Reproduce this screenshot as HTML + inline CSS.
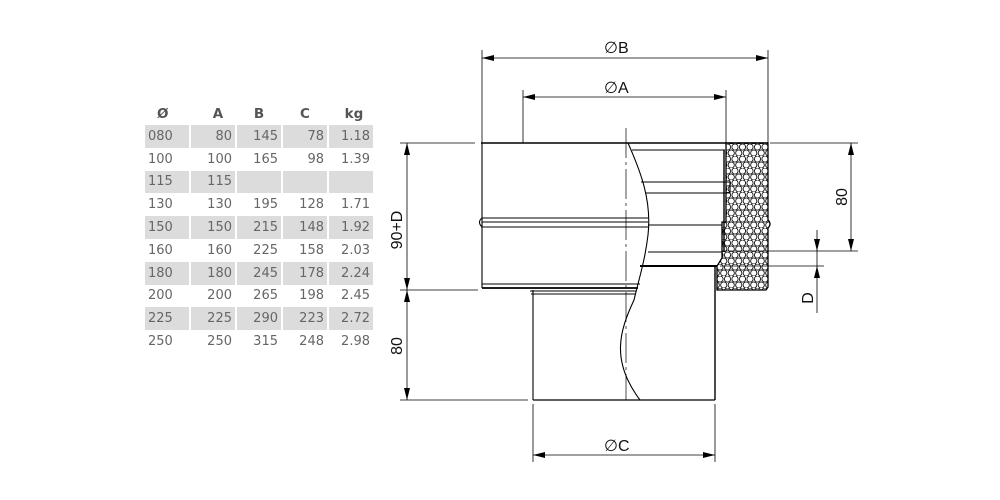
<!DOCTYPE html>
<html><head><meta charset="utf-8"><style>
html,body{margin:0;padding:0;background:#fff;}
body{width:1000px;height:500px;position:relative;overflow:hidden;font-family:"Liberation Sans","DejaVu Sans",sans-serif;}
table{position:absolute;left:143px;top:103px;border-collapse:separate;border-spacing:2px 0;font-family:"DejaVu Sans","Liberation Sans",sans-serif;font-size:13px;color:#666;}
td,th{width:44px;height:22.8px;padding:0 3px 0 0;text-align:right;box-sizing:border-box;}
th{color:#555;font-weight:bold;font-size:13.5px;text-align:center;height:22px;padding:0;}
td:first-child{text-align:left;padding-left:3px;}
tr.g td{background:#dcdcdc;}
</style></head><body>
<table>
<tr><th style="text-align:left;padding-left:12px">Ø</th><th style="padding-left:10px">A</th><th>B</th><th>C</th><th style="padding-left:6px">kg</th></tr>
<tr class="g"><td>080</td><td>80</td><td>145</td><td>78</td><td>1.18</td></tr>
<tr><td>100</td><td>100</td><td>165</td><td>98</td><td>1.39</td></tr>
<tr class="g"><td>115</td><td>115</td><td></td><td></td><td></td></tr>
<tr><td>130</td><td>130</td><td>195</td><td>128</td><td>1.71</td></tr>
<tr class="g"><td>150</td><td>150</td><td>215</td><td>148</td><td>1.92</td></tr>
<tr><td>160</td><td>160</td><td>225</td><td>158</td><td>2.03</td></tr>
<tr class="g"><td>180</td><td>180</td><td>245</td><td>178</td><td>2.24</td></tr>
<tr><td>200</td><td>200</td><td>265</td><td>198</td><td>2.45</td></tr>
<tr class="g"><td>225</td><td>225</td><td>290</td><td>223</td><td>2.72</td></tr>
<tr><td>250</td><td>250</td><td>315</td><td>248</td><td>2.98</td></tr>
</table>
<svg width="1000" height="500" style="position:absolute;left:0;top:0" xmlns="http://www.w3.org/2000/svg">
<defs>
<pattern id="hex2" width="7.5" height="12" patternUnits="userSpaceOnUse">
<circle cx="0" cy="3" r="3.1" fill="none" stroke="#111" stroke-width="0.9"/>
<circle cx="7.5" cy="3" r="3.1" fill="none" stroke="#111" stroke-width="0.9"/>
<circle cx="3.75" cy="9" r="3.1" fill="none" stroke="#111" stroke-width="0.9"/>
</pattern>
</defs>
<g stroke="#000" fill="none" stroke-width="0.8">
<line x1="482" y1="50" x2="482" y2="143"/>
<line x1="768" y1="50" x2="768" y2="143"/>
<line x1="523" y1="90" x2="523" y2="143"/>
<line x1="726" y1="90" x2="726" y2="143"/>
<line x1="533" y1="404" x2="533" y2="462"/>
<line x1="715" y1="404" x2="715" y2="462"/>
<line x1="400" y1="143" x2="475" y2="143"/>
<line x1="400" y1="290" x2="478" y2="290"/>
<line x1="400" y1="400" x2="528" y2="400"/>
<line x1="770" y1="143" x2="858" y2="143"/>
<line x1="722" y1="251" x2="858" y2="251"/>
<line x1="720" y1="266" x2="824" y2="266"/>
<line x1="482" y1="58" x2="768" y2="58"/>
<line x1="523" y1="97" x2="726" y2="97"/>
<line x1="533" y1="455" x2="715" y2="455"/>
<line x1="407" y1="143" x2="407" y2="400"/>
<line x1="851" y1="143" x2="851" y2="251"/>
<line x1="817" y1="230" x2="817" y2="313"/>
</g>
<g fill="#000">
<path d="M482,58 l12,-3 v6z"/><path d="M768,58 l-12,-3 v6z"/>
<path d="M523,97 l12,-3 v6z"/><path d="M726,97 l-12,-3 v6z"/>
<path d="M533,455 l12,-3 v6z"/><path d="M715,455 l-12,-3 v6z"/>
<path d="M407,143 l-3,12 h6z"/><path d="M407,290 l-3,-12 h6z"/>
<path d="M407,290 l-3,12 h6z"/><path d="M407,400 l-3,-12 h6z"/>
<path d="M851,143 l-3,12 h6z"/><path d="M851,251 l-3,-12 h6z"/>
<path d="M817,251 l-3,-12 h6z"/><path d="M817,266 l-3,12 h6z"/>
</g>
<g font-family="Liberation Sans, sans-serif" font-size="16" fill="#111">
<text x="604" y="53">∅B</text>
<text x="604" y="93">∅A</text>
<text x="604" y="451">∅C</text>
<text transform="translate(402,230) rotate(-90)" text-anchor="middle">90+D</text>
<text transform="translate(402,346) rotate(-90)" text-anchor="middle">80</text>
<text transform="translate(847,197) rotate(-90)" text-anchor="middle">80</text>
<text transform="translate(813,298) rotate(-90)" text-anchor="middle">D</text>
</g>
<path d="M726,143 H768 V220 q4,4 0,8 V287 L766,290 H717 V266 L722,258 V222 H726z" fill="url(#hex2)" stroke="#000" stroke-width="1.3"/>
<g stroke="#000" fill="none" stroke-width="1.1">
<line x1="481" y1="143" x2="768" y2="143" stroke-width="1.4"/>
<line x1="482" y1="143" x2="482" y2="288"/>
<path d="M482,218 q-5,4 0,9"/>
<line x1="482" y1="218" x2="648" y2="218"/>
<line x1="482" y1="222" x2="648" y2="222"/>
<line x1="482" y1="227" x2="648" y2="227"/>
<line x1="482" y1="284" x2="640" y2="284"/>
<line x1="482" y1="288" x2="638" y2="288" stroke-width="1.7"/>
<line x1="530" y1="291" x2="636" y2="291"/>
<line x1="531" y1="294" x2="635" y2="294"/>
<line x1="533" y1="290" x2="533" y2="400"/>
<line x1="533" y1="400" x2="715" y2="400" stroke-width="1.3"/>
<line x1="715" y1="266" x2="715" y2="400" stroke-width="1.4"/>
<path d="M628,143 C640,170 652,200 648,235 C645,260 640,275 634,300 C620,330 610,360 640,400"/>
<line x1="626" y1="128" x2="626" y2="400" stroke-width="0.7" stroke-dasharray="30,4,3,4"/>
<line x1="632" y1="150" x2="725" y2="150"/>
<path d="M641,182 H730 V193 H645"/>
<line x1="648" y1="225" x2="722" y2="225"/>
<line x1="648" y1="252" x2="722" y2="252"/>
<line x1="640" y1="266" x2="717" y2="266" stroke-width="2"/>
<line x1="724" y1="150" x2="724" y2="252" stroke-width="1.4"/>
</g>
</svg>
</body></html>
